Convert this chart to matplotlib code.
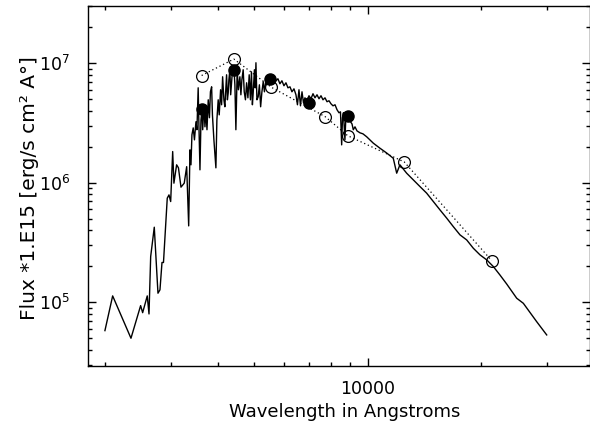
import matplotlib
matplotlib.use("Agg")
import matplotlib.pyplot as plt
from matplotlib.ticker import FixedLocator, FixedFormatter, NullFormatter, LogLocator

# Spectrum (wavelength in Angstrom, flux *1e15)
spec_wave = [2001, 2098, 2347, 2490, 2521, 2593, 2621, 2648, 2707, 2769, 2803, 2838, 2864,
             2931, 2962, 2993, 3030, 3053, 3104, 3139, 3188, 3252, 3301, 3342,
             3368, 3389, 3409, 3436, 3462, 3494, 3515, 3542, 3558, 3581, 3603, 3625, 3641,
             3669, 3692, 3715, 3738, 3767, 3795, 3818, 3846, 3865, 3900, 3948, 3972, 4004,
             4029, 4063, 4088, 4114, 4146, 4171, 4215, 4236, 4257, 4275, 4301, 4322, 4346,
             4367, 4408, 4435, 4462, 4498, 4531, 4573, 4601, 4629, 4666, 4696, 4731, 4765,
             4803, 4841, 4878, 4908, 4937, 4961, 4998, 5023, 5045, 5076, 5115, 5153, 5192,
             5233, 5275, 5314, 5363, 5429, 5497, 5564, 5632, 5702, 5772, 5843, 5915, 5989,
             6063, 6137, 6214, 6290, 6368, 6446, 6505, 6566, 6627, 6689, 6750, 6811, 6896,
             6981, 7067, 7155, 7243, 7333, 7423, 7514, 7607, 7701, 7796, 7892, 7990, 8088,
             8188, 8289, 8389, 8466, 8528, 8571, 8621, 8700, 8753, 8835, 8919, 9001, 9085,
             9157, 9253, 9366, 9540, 9715, 9938,
             10349, 10783, 11232, 11697, 11945, 12185, 12695, 13220, 13773, 14350,
             14945, 15570, 16224, 16893, 17600, 18337, 19094, 19892, 20730, 21580, 22480,
             23430, 24910, 25940, 28150, 29930]
spec_flux = [5.79e4, 1.13e5, 5.00e4, 9.37e4, 8.18e4, 1.13e5, 7.98e4, 2.41e5, 4.24e5, 1.19e5,
             1.27e5, 2.15e5, 2.15e5, 7.42e5, 7.90e5, 6.95e5, 1.82e6, 9.90e5, 1.41e6, 1.33e6,
             9.17e5, 9.90e5, 1.36e6, 4.35e5,
             1.88e6, 1.41e6, 2.51e6, 2.87e6, 2.28e6, 3.23e6, 2.77e6, 6.21e6, 3.05e6, 1.28e6,
             3.35e6, 4.07e6, 2.77e6, 4.48e6, 2.93e6, 4.07e6, 2.77e6, 4.93e6, 3.49e6, 5.75e6,
             6.33e6, 3.69e6, 2.28e6, 1.33e6, 3.35e6, 4.93e6, 3.69e6, 5.98e6, 4.48e6, 7.68e6,
             4.93e6, 4.31e6, 7.98e6, 4.93e6, 5.64e6, 7.25e6, 8.79e6, 5.43e6, 6.84e6, 8.45e6,
             9.14e6, 6.58e6, 2.77e6, 8.79e6, 5.98e6, 7.68e6, 5.43e6, 7.25e6, 8.79e6, 5.75e6,
             4.93e6, 6.84e6, 5.12e6, 7.98e6, 4.93e6, 8.45e6, 4.48e6, 5.64e6, 8.79e6, 6.21e6,
             1.006e7, 4.93e6, 5.22e6, 6.58e6, 4.31e6, 5.75e6, 6.98e6, 5.75e6, 7.25e6, 6.58e6,
             7.52e6, 6.98e6, 7.68e6, 7.11e6, 7.39e6, 6.71e6, 7.11e6, 6.46e6, 6.84e6, 6.21e6,
             6.33e6, 5.75e6, 6.09e6, 5.43e6, 4.48e6, 5.98e6, 4.39e6, 5.75e6, 4.65e6, 5.12e6,
             4.84e6, 5.33e6, 5.03e6, 5.54e6, 5.12e6, 5.43e6, 5.03e6, 5.33e6, 4.93e6, 5.12e6,
             4.75e6, 4.84e6, 4.56e6, 4.39e6, 4.48e6, 4.07e6, 3.84e6, 3.91e6, 2.07e6, 3.49e6,
             3.84e6, 2.28e6, 3.62e6, 3.49e6, 3.69e6, 3.23e6, 3.10e6, 2.77e6, 2.93e6, 2.71e6,
             2.61e6, 2.56e6, 2.42e6,
             2.14e6, 1.94e6, 1.77e6, 1.60e6, 1.20e6, 1.41e6, 1.20e6, 1.055e6, 9.28e5, 8.17e5,
             6.95e5, 5.92e5, 5.05e5, 4.29e5, 3.66e5, 3.32e5, 2.83e5, 2.49e5, 2.26e5, 1.99e5,
             1.69e5, 1.42e5, 1.08e5, 9.8e4, 6.88e4, 5.33e4]

# Observed photometry (filled circles)
obs_wave = [3618, 4407, 5510, 6994, 8850]
obs_flux = [4.12e6, 8.79e6, 7.35e6, 4.61e6, 3.62e6]

# Model / synthetic photometry (open circles, dotted)
mod_wave = [3618, 4407, 5546, 7710, 8850, 12510, 21370]
mod_flux = [7.87e6, 1.08e7, 6.27e6, 3.56e6, 2.47e6, 1.49e6, 2.23e5]

x_major = [10000]
x_major_labels = ["10000"]
x_minor = [2000, 3000, 4000, 5000, 6000, 7000, 8000, 9000, 20000, 30000]

plt.rcParams['font.family'] = ['DejaVu Sans']
fig = plt.figure(figsize=(5.9, 4.26), dpi=100)
ax = fig.add_axes([88/590, 1 - 366/426, (589.5 - 88)/590, (366 - 6)/426])

ax.plot(spec_wave, spec_flux, color='black', lw=1.0, zorder=2)
ax.plot(mod_wave, mod_flux, linestyle=(0, (1, 2.2)), color='black', lw=0.9,
        marker='o', markersize=8.5, markerfacecolor='none', markeredgecolor='black',
        markeredgewidth=0.9, zorder=3)
ax.plot(obs_wave, obs_flux, linestyle='none', marker='o', markersize=8,
        color='black', zorder=4)

ax.set_xscale('log')
ax.set_yscale('log')
ax.set_xlim(1804, 38900)
ax.set_ylim(2.93e4, 3.0e7)

ax.xaxis.set_major_locator(FixedLocator(x_major))
ax.xaxis.set_major_formatter(FixedFormatter(x_major_labels))
ax.xaxis.set_minor_locator(FixedLocator(x_minor))
ax.xaxis.set_minor_formatter(NullFormatter())
ax.yaxis.set_major_locator(LogLocator(base=10, numticks=10))
ax.yaxis.set_minor_locator(LogLocator(base=10, subs=range(2, 10), numticks=10))
ax.yaxis.set_minor_formatter(NullFormatter())

ax.tick_params(which='both', direction='in', top=True, right=True, width=1.0, labelsize=12.5)
ax.tick_params(which='major', length=5.5)
ax.tick_params(which='minor', length=3)
ax.tick_params(axis='x', pad=10)
ax.tick_params(axis='y', pad=13)
for s in ax.spines.values():
    s.set_linewidth(1.0)

ax.set_xlabel("Wavelength in Angstroms", fontsize=13, labelpad=4)
ax.xaxis.label.set_x(0.5125)
ax.set_ylabel("Flux *1.E15 [erg/s cm\u00b2 A\u00b0]", fontsize=14.5)
ax.yaxis.set_label_coords(-0.098, 0.493)

fig.savefig("out.png", dpi=100)
